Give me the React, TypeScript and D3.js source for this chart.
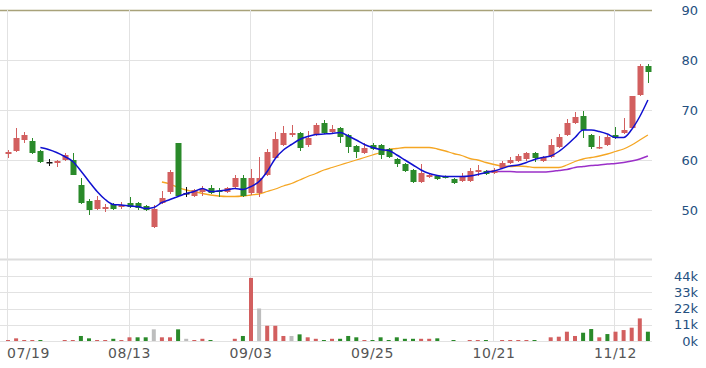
import React, { useEffect, useRef } from "react";
import * as d3 from "d3";

// candles: [open, high, low, close]
const candles: number[][] = [
  [61.2, 62, 60.4, 61.6], [61.8, 66.4, 61.6, 64.4], [64, 65.6, 63.4, 65], [63.8, 64.4, 61.2, 61.4],
  [61.8, 62, 59.4, 59.6], [59.6, 60.2, 58.8, 59.6], [59.4, 60, 58.6, 59.8], [60, 61.4, 59.8, 61],
  [60, 61.4, 57, 57], [55, 56.4, 51.2, 51.4], [51.8, 52.2, 49, 50], [50.2, 52.8, 50, 52],
  [50.2, 51.2, 49.6, 50.6], [51.2, 51.4, 50, 50.2], [50.6, 51.6, 50.2, 51], [51.4, 52.6, 50.4, 50.6],
  [51.4, 51.6, 50, 50.4], [50.8, 51, 49.8, 50], [46.6, 51, 46.4, 50.2], [51.4, 53.8, 51.2, 52.4],
  [53.6, 58, 53.2, 57.6], [63.4, 63.4, 52.6, 52.8], [53.4, 54.6, 52.6, 53.4], [52.8, 54.2, 52.6, 54],
  [53.6, 54.8, 52.8, 54.2], [54.4, 55, 53.2, 53.4], [53.9, 54.4, 52.6, 53.7], [53.6, 54.6, 53.4, 54.4],
  [54.6, 57, 54.4, 56.4], [56.4, 57, 52.6, 52.8], [53.4, 58.2, 53, 56.4], [53.4, 60.6, 52.6, 56.4],
  [57, 62.2, 56.8, 61.6], [60.4, 65.6, 60.2, 64.2], [63, 66.8, 62.8, 65.4], [65, 67, 64.6, 65.4],
  [65.4, 65.6, 61.8, 62.4], [63, 65.8, 62.6, 64.4], [65, 67.4, 64.8, 67], [67.4, 68, 65.2, 65.4],
  [65.6, 67, 65.4, 66.2], [66.4, 66.6, 63.4, 64.6], [65, 65.2, 61.4, 62.6], [62.8, 63, 60.4, 61.6],
  [61.4, 63.4, 61.2, 62.4], [63, 63.4, 62, 62.2], [63, 63.2, 60.2, 61], [62.2, 62.4, 60.4, 60.6],
  [60.2, 60.4, 58.6, 59.2], [59.2, 59.4, 57.6, 57.8], [58, 58.2, 55.4, 55.6], [55.6, 59.2, 55.4, 57.4],
  [56.6, 57.4, 56.4, 57], [56.8, 57, 56, 56.2], [56.7, 56.9, 56.3, 56.5], [56.2, 56.4, 55.2, 55.4],
  [55.8, 57.4, 55.6, 56.6], [55.8, 58.4, 55.6, 57.8], [57.6, 59, 56.8, 58], [57.8, 58, 57, 57.2],
  [57.4, 58.4, 57.2, 58], [58.4, 59.8, 58.2, 59.4], [59.4, 60.6, 59.2, 60], [59.8, 61.2, 59.6, 60.8],
  [60.2, 61.6, 59.8, 61.4], [61.4, 61.6, 59.6, 60.4], [59.8, 60.8, 59.6, 60.6], [60.6, 64.2, 60.4, 63],
  [62.6, 65.2, 62.4, 64.6], [65, 68.2, 64.8, 67.4], [67.4, 69.6, 67.2, 68.6], [68.8, 69.8, 64.4, 66],
  [65, 65.2, 62.2, 62.6], [62.4, 64.8, 62.2, 62.6], [63, 65, 62.8, 64.6], [65, 66.6, 64.2, 64.4],
  [65.4, 68.4, 65.2, 66], [66.4, 72.8, 66.2, 72.8], [73, 79.2, 72.8, 78.8], [78.8, 79.2, 75.4, 77.6]
];

// volume in thousands, with colour flag r / g / n
const volumes = [
  0.3, 1.8, 0.6, 0.5, 0.5, 0, 0, 0.4, 0.5, 3.4,
  1.8, 0.6, 0.6, 1.5, 0.5, 2.5, 2.5, 2.5, 7.9, 2.5,
  2.5, 7.9, 1.5, 0.5, 1.5, 0.5, 0, 0, 1.5, 3.4,
  42.7, 22, 10.3, 10.3, 3.4, 3.4, 4.5, 2.5, 1.5, 0.5,
  1.5, 1.5, 3.4, 2.5, 0.5, 0.5, 2.5, 0.5, 2.5, 1.5,
  1.5, 1.5, 1.5, 1.8, 0, 0.4, 0, 0.4, 0.4, 0.4,
  0, 0.4, 0.4, 0.4, 0.4, 0.4, 0, 2.5, 2.9, 6.3,
  3.4, 5.6, 8.1, 2.5, 4.7, 6.3, 7.4, 9, 15.3, 6.3
];
const volDir = (
  "rrrrgnnrrg" + "grrgrrggnr" + "rgnrrgnnrg" + "rnrrrngrrg" + "rgggrggggg" +
  "grrgggrrrg" + "rrrrrgrrrr" + "rggrgrrrrg"
).split("");

// moving averages
const ma5Start = 4;
const ma5 = [
  62.5, 62.1, 61.5, 60.7, 59.7, 57.8, 55.7, 53.7, 52.1, 51.1, 51, 50.8, 50.7, 50.3, 50.5, 51.5,
  52.1, 52.7, 53.3, 53.7, 54.3, 53.7, 53.8, 54, 54.3, 54.1, 54.7, 55.7, 57.7, 60.3, 62, 63.1,
  64.1, 64.7, 65.1, 65.2, 65.3, 65.5, 64.8, 64, 63.1, 62.5, 62.1, 61.9, 61, 60, 59, 58,
  57.3, 56.9, 56.7, 56.7, 56.7, 56.8, 57.1, 57.5, 57.8, 58.3, 58.8, 59, 59.5, 60.1, 60.5, 60.8,
  61.7, 63, 64.5, 66, 66, 65.7, 65.2, 64.5, 64.5, 66.1, 68.7, 72
];
const ma20Start = 19;
const ma20 = [
  55.6, 55.2, 54.5, 54, 53.7, 53.3, 53, 52.8, 52.7, 52.7, 52.8, 53, 53.2, 53.7, 54.2, 54.8,
  55.3, 56, 56.7, 57.3, 58, 58.5, 59, 59.5, 60, 60.5, 61, 61.5, 62.1, 62.3, 62.5, 62.5,
  62.5, 62.5, 62.2, 61.8, 61.3, 60.9, 60.3, 60, 59.5, 59.1, 58.8, 58.7, 58.8, 58.7, 58.5, 58.5,
  58.5, 58.5, 59, 59.7, 60.2, 60.5, 60.8, 61.2, 61.7, 62.2, 63, 64, 65
];
const ma60Start = 59;
const ma60 = [
  57.8, 57.7, 57.7, 57.7, 57.6, 57.6, 57.6, 57.6, 57.7, 57.9, 58.1, 58.5, 58.7, 58.9, 59, 59.2,
  59.3, 59.5, 59.8, 60.2, 60.8
];

const dateTicks = [0, 15, 30, 45, 60, 75];
const dateLabels = ["07/19", "08/13", "09/03", "09/25", "10/21", "11/12"];
const priceTicks = [50, 60, 70, 80, 90];
const volTicks = [0, 11, 22, 33, 44];

const App = () => {
  const visual = useRef(null);

  useEffect(() => {
    const width = 706;
    const height = 368;
    const right = 652;
    const font = "DejaVu Sans, Verdana, sans-serif";

    const x = d3.scaleLinear().domain([0, candles.length - 1]).range([8, 647.9]);
    const y = d3.scaleLinear().domain([50, 90]).range([210, 10]);
    const yv = d3.scaleLinear().domain([0, 44]).range([341, 276]);

    const svg = d3.select(visual.current).attr("width", width).attr("height", height);
    svg.selectAll("*").remove();

    const red = "#d25f5f";
    const green = "#2a8a2a";

    // grid
    svg
      .selectAll(".pgrid")
      .data(priceTicks)
      .join("line")
      .attr("x1", 0)
      .attr("x2", right)
      .attr("y1", d => y(d) + 0.5)
      .attr("y2", d => y(d) + 0.5)
      .attr("stroke", d => (d === 90 ? "#a8a27a" : "#e2e2e2"))
      .attr("stroke-width", d => (d === 90 ? 1.5 : 1));

    svg
      .append("line")
      .attr("x1", 0)
      .attr("x2", right)
      .attr("y1", 259.5)
      .attr("y2", 259.5)
      .attr("stroke", "#dcdcdc")
      .attr("stroke-width", 2);

    svg
      .selectAll(".vgrid")
      .data(volTicks)
      .join("line")
      .attr("x1", 0)
      .attr("x2", right)
      .attr("y1", d => Math.round(yv(d)) + 0.5)
      .attr("y2", d => Math.round(yv(d)) + 0.5)
      .attr("stroke", "#e2e2e2");

    svg
      .selectAll(".xgrid")
      .data(dateTicks)
      .join("line")
      .attr("x1", d => Math.round(x(d)) - 0.5)
      .attr("x2", d => Math.round(x(d)) - 0.5)
      .attr("y1", 10)
      .attr("y2", 342)
      .attr("stroke", "#e2e2e2");

    // volume bars
    const volColor = (d: string) => (d === "r" ? red : d === "g" ? green : "#bdbdbd");
    svg
      .selectAll(".vol")
      .data(volumes)
      .join("rect")
      .attr("x", (d, i) => x(i) - 2)
      .attr("width", 4)
      .attr("y", d => (d > 0 ? Math.min(yv(d), yv(0) - 1) : yv(0)))
      .attr("height", d => (d > 0 ? Math.max(1, yv(0) - yv(d)) : 0))
      .attr("fill", (d, i) => volColor(volDir[i]));

    // moving averages
    const maLine = (vals: number[], start: number, color: string, w: number) => {
      const line = d3
        .line<number>()
        .x((d, i) => x(i + start))
        .y(d => y(d))
        .curve(d3.curveMonotoneX);
      svg
        .append("path")
        .attr("d", line(vals))
        .attr("fill", "none")
        .attr("stroke", color)
        .attr("stroke-width", w);
    };
    maLine(ma60, ma60Start, "#9b30c8", 1.5);
    maLine(ma20, ma20Start, "#f5a623", 1.3);

    // candles
    const cColor = (c: number[]) => (c[3] > c[0] ? red : c[3] < c[0] ? green : "#111");
    const g = svg.append("g");
    g.selectAll(".wick")
      .data(candles)
      .join("line")
      .attr("x1", (d, i) => Math.round(x(i)) + 0.5)
      .attr("x2", (d, i) => Math.round(x(i)) + 0.5)
      .attr("y1", d => y(d[1]))
      .attr("y2", d => y(d[2]))
      .attr("stroke", d => cColor(d));
    g.selectAll(".body")
      .data(candles)
      .join("rect")
      .attr("x", (d, i) => Math.round(x(i)) - 2.5)
      .attr("width", 6)
      .attr("y", d => y(Math.max(d[0], d[3])))
      .attr("height", d => Math.max(1.5, Math.abs(y(d[0]) - y(d[3]))))
      .attr("fill", d => cColor(d));

    maLine(ma5, ma5Start, "#1010d0", 1.5);

    // right axis labels
    svg
      .selectAll(".plab")
      .data(priceTicks)
      .join("text")
      .attr("x", 698)
      .attr("y", d => y(d))
      .attr("dy", "0.36em")
      .attr("text-anchor", "end")
      .attr("font-family", font)
      .attr("font-size", 13)
      .attr("fill", "#25507f")
      .text(d => d);

    svg
      .selectAll(".vlab")
      .data(volTicks)
      .join("text")
      .attr("x", 698)
      .attr("y", d => yv(d))
      .attr("dy", "0.36em")
      .attr("text-anchor", "end")
      .attr("font-family", font)
      .attr("font-size", 13)
      .attr("fill", "#25507f")
      .text(d => d + "k");

    // date labels
    svg
      .selectAll(".xlab")
      .data(dateTicks)
      .join("text")
      .attr("x", (d, i) => (i === 0 ? 7 : x(d)))
      .attr("y", 358)
      .attr("text-anchor", (d, i) => (i === 0 ? "start" : "middle"))
      .attr("font-family", font)
      .attr("font-size", 14)
      .attr("letter-spacing", 0.5)
      .attr("fill", "#555")
      .text((d, i) => dateLabels[i]);
  }, []);

  return (
    <svg ref={visual} style={{ position: "absolute", left: 0, top: 0, background: "#fff" }} />
  );
};

export default App;
